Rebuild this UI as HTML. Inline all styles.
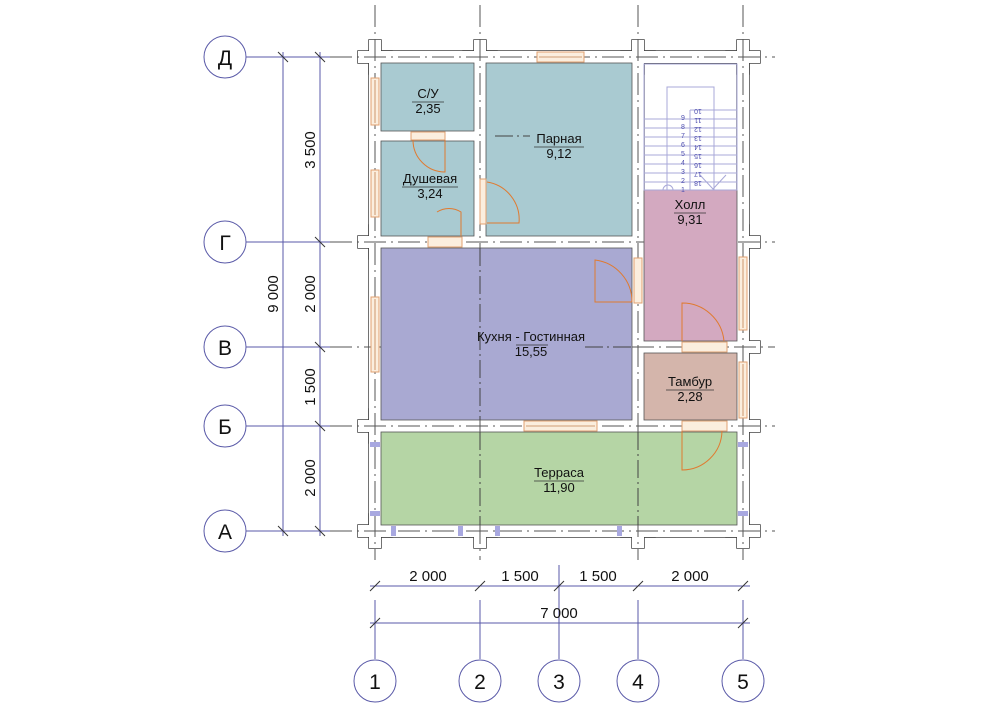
<!DOCTYPE html>
<html><head><meta charset="utf-8"><style>
html,body{margin:0;padding:0;background:#fff;}
svg{display:block;font-family:"Liberation Sans",sans-serif;}
</style></head><body>
<svg width="1000" height="707" viewBox="0 0 1000 707" xmlns="http://www.w3.org/2000/svg">
<defs>
<g id="grid">
<line x1="375" y1="5" x2="375" y2="560"/>
<line x1="480" y1="5" x2="480" y2="248"/>
<line x1="480" y1="420" x2="480" y2="560"/>
<line x1="638" y1="5" x2="638" y2="560"/>
<line x1="743" y1="5" x2="743" y2="560"/>
<line x1="330" y1="57" x2="775" y2="57"/>
<line x1="330" y1="242" x2="775" y2="242"/>
<line x1="330" y1="347" x2="381" y2="347"/>
<line x1="632" y1="347" x2="775" y2="347"/>
<line x1="330" y1="426" x2="775" y2="426"/>
<line x1="330" y1="531" x2="775" y2="531"/>
</g>
</defs>
<use href="#grid" stroke="#666" stroke-width="1" stroke-dasharray="22,5,2,5" fill="none"/>
<!-- bubbles & blue dim -->
<g stroke="#5a5aa8" stroke-width="1" fill="none">
<line x1="246" y1="57" x2="330" y2="57"/>
<line x1="246" y1="242" x2="330" y2="242"/>
<line x1="246" y1="347" x2="340" y2="347"/>
<line x1="246" y1="426" x2="330" y2="426"/>
<line x1="246" y1="531" x2="330" y2="531"/>
<line x1="283" y1="52" x2="283" y2="536"/>
<line x1="320" y1="52" x2="320" y2="536"/>
<line x1="370" y1="586" x2="750" y2="586"/>
<line x1="370" y1="623" x2="750" y2="623"/>
<line x1="375" y1="600" x2="375" y2="659"/>
<line x1="480" y1="600" x2="480" y2="659"/>
<line x1="559" y1="565" x2="559" y2="659"/>
<line x1="638" y1="600" x2="638" y2="659"/>
<line x1="743" y1="600" x2="743" y2="659"/>
<circle cx="225" cy="57" r="21"/><circle cx="225" cy="242" r="21"/><circle cx="225" cy="347" r="21"/><circle cx="225" cy="426" r="21"/><circle cx="225" cy="531" r="21"/>
<circle cx="375" cy="681" r="21"/><circle cx="480" cy="681" r="21"/><circle cx="559" cy="681" r="21"/><circle cx="638" cy="681" r="21"/><circle cx="743" cy="681" r="21"/>
</g>
<g stroke="#333" stroke-width="1">
<line x1="278" y1="52" x2="288" y2="62"/><line x1="278" y1="526" x2="288" y2="536"/>
<line x1="315" y1="52" x2="325" y2="62"/><line x1="315" y1="237" x2="325" y2="247"/><line x1="315" y1="342" x2="325" y2="352"/><line x1="315" y1="421" x2="325" y2="431"/><line x1="315" y1="526" x2="325" y2="536"/>
<line x1="370" y1="591" x2="380" y2="581"/><line x1="475" y1="591" x2="485" y2="581"/><line x1="554" y1="591" x2="564" y2="581"/><line x1="633" y1="591" x2="643" y2="581"/><line x1="738" y1="591" x2="748" y2="581"/>
<line x1="370" y1="628" x2="380" y2="618"/><line x1="738" y1="628" x2="748" y2="618"/>
</g>
<g font-size="21" text-anchor="middle" fill="#111">
<text x="225" y="65">Д</text><text x="225" y="250">Г</text><text x="225" y="355">В</text><text x="225" y="434">Б</text><text x="225" y="539">А</text>
<text x="375" y="689">1</text><text x="480" y="689">2</text><text x="559" y="689">3</text><text x="638" y="689">4</text><text x="743" y="689">5</text>
</g>
<g font-size="15" text-anchor="middle" fill="#111">
<text x="428" y="581">2 000</text><text x="520" y="581">1 500</text><text x="598" y="581">1 500</text><text x="690" y="581">2 000</text>
<text x="559" y="618">7 000</text>
<text transform="translate(278,294) rotate(-90)">9 000</text>
<text transform="translate(315,150) rotate(-90)">3 500</text>
<text transform="translate(315,294) rotate(-90)">2 000</text>
<text transform="translate(315,387) rotate(-90)">1 500</text>
<text transform="translate(315,478) rotate(-90)">2 000</text>
</g>
<defs>
<g id="walls">
<rect x="369" y="51" width="380" height="12"/>
<rect x="369" y="236" width="380" height="12"/>
<rect x="632" y="341" width="117" height="12"/>
<rect x="369" y="420" width="380" height="12"/>
<rect x="369" y="525" width="380" height="12"/>
<rect x="369" y="51" width="12" height="486"/>
<rect x="474" y="51" width="12" height="197"/>
<rect x="632" y="51" width="12" height="486"/>
<rect x="737" y="51" width="12" height="486"/>
<rect x="375" y="131" width="105" height="10"/>
<rect x="358" y="51" width="34" height="12"/><rect x="369" y="40" width="12" height="34"/>
<rect x="463" y="51" width="34" height="12"/><rect x="474" y="40" width="12" height="34"/>
<rect x="621" y="51" width="34" height="12"/><rect x="632" y="40" width="12" height="34"/>
<rect x="726" y="51" width="34" height="12"/><rect x="737" y="40" width="12" height="34"/>
<rect x="358" y="236" width="34" height="12"/><rect x="369" y="225" width="12" height="34"/>
<rect x="463" y="236" width="34" height="12"/><rect x="474" y="225" width="12" height="34"/>
<rect x="621" y="236" width="34" height="12"/><rect x="632" y="225" width="12" height="34"/>
<rect x="726" y="236" width="34" height="12"/><rect x="737" y="225" width="12" height="34"/>
<rect x="621" y="341" width="34" height="12"/>
<rect x="726" y="341" width="34" height="12"/><rect x="737" y="330" width="12" height="34"/>
<rect x="358" y="420" width="34" height="12"/><rect x="369" y="409" width="12" height="34"/>
<rect x="463" y="420" width="34" height="12"/><rect x="474" y="409" width="12" height="34"/>
<rect x="621" y="420" width="34" height="12"/><rect x="632" y="409" width="12" height="34"/>
<rect x="726" y="420" width="34" height="12"/><rect x="737" y="409" width="12" height="34"/>
<rect x="358" y="525" width="34" height="12"/><rect x="369" y="514" width="12" height="34"/>
<rect x="463" y="525" width="34" height="12"/><rect x="474" y="514" width="12" height="34"/>
<rect x="621" y="525" width="34" height="12"/><rect x="632" y="514" width="12" height="34"/>
<rect x="726" y="525" width="34" height="12"/><rect x="737" y="514" width="12" height="34"/>
</g>
</defs>
<use href="#walls" fill="#fff" stroke="#444" stroke-width="1.5"/>
<use href="#walls" fill="#fff" stroke="none"/>
<use href="#grid" stroke="#555" stroke-width="1" stroke-dasharray="22,5,2,5" fill="none"/>
<!-- rooms -->
<g stroke="#555" stroke-width="0.8">
<rect x="381" y="63" width="93" height="68" fill="#a9cad1"/>
<rect x="381" y="141" width="93" height="95" fill="#a9cad1"/>
<rect x="486" y="63" width="146" height="173" fill="#a9cad1"/>
<rect x="644" y="190" width="93" height="151" fill="#d3a9c0"/>
<rect x="381" y="248" width="251" height="172" fill="#a9a9d2"/>
<rect x="644" y="353" width="93" height="67" fill="#d4b5ab"/>
<rect x="381" y="432" width="356" height="93" fill="#b5d5a5"/>
</g>
<g stroke="#444" stroke-width="1" stroke-dasharray="18,4,2,4">
<line x1="480" y1="248" x2="480" y2="420"/>
<line x1="480" y1="432" x2="480" y2="525"/>
<line x1="638" y1="432" x2="638" y2="525"/>
<line x1="585" y1="347" x2="632" y2="347"/>
<line x1="495" y1="136" x2="530" y2="136"/>
</g>
<!-- stairs -->
<g stroke="#a8a8d8" stroke-width="1" fill="none">
<rect x="644" y="64" width="93" height="126"/>
<polyline points="667,190 667,87 714,87 714,190"/>
<line x1="690" y1="110" x2="690" y2="190"/>
<line x1="690" y1="110" x2="737" y2="110"/>
<line x1="644" y1="119" x2="737" y2="119"/><line x1="644" y1="128" x2="737" y2="128"/><line x1="644" y1="137" x2="737" y2="137"/><line x1="644" y1="146" x2="737" y2="146"/><line x1="644" y1="155" x2="737" y2="155"/><line x1="644" y1="164" x2="737" y2="164"/><line x1="644" y1="173" x2="737" y2="173"/><line x1="644" y1="182" x2="737" y2="182"/>
<polyline points="700,175 713,189 726,175"/>
<path d="M663,190 a5,5 0 0 1 10,0"/>
</g>
<g font-size="7" fill="#5050b0" text-anchor="middle">
<text x="683" y="192">1</text><text x="683" y="183">2</text><text x="683" y="174">3</text><text x="683" y="165">4</text><text x="683" y="156">5</text><text x="683" y="147">6</text><text x="683" y="138">7</text><text x="683" y="129">8</text><text x="683" y="120">9</text>
<text transform="translate(698,109) rotate(180)">10</text><text transform="translate(698,118) rotate(180)">11</text><text transform="translate(698,127) rotate(180)">12</text><text transform="translate(698,136) rotate(180)">13</text><text transform="translate(698,145) rotate(180)">14</text><text transform="translate(698,154) rotate(180)">15</text><text transform="translate(698,163) rotate(180)">16</text><text transform="translate(698,172) rotate(180)">17</text><text transform="translate(698,181) rotate(180)">18</text>
</g>
<!-- windows -->
<g fill="#fbeede" stroke="#e0a070" stroke-width="1">
<rect x="537" y="52" width="47" height="10"/>
<rect x="371" y="78" width="8" height="47"/>
<rect x="371" y="170" width="8" height="47"/>
<rect x="371" y="297" width="8" height="75"/>
<rect x="739" y="257" width="8" height="73"/>
<rect x="739" y="362" width="8" height="56"/>
<rect x="524" y="421" width="73" height="10"/>
<rect x="634" y="258" width="8" height="45"/>
<rect x="480" y="179" width="6" height="45"/>
<rect x="411" y="132" width="34" height="8"/>
<rect x="428" y="237" width="34" height="10"/>
<rect x="682" y="342" width="45" height="10"/>
<rect x="682" y="421" width="45" height="10"/>
</g>
<g stroke="#c08050" stroke-width="0.8">
<line x1="375" y1="80" x2="375" y2="123"/><line x1="375" y1="172" x2="375" y2="215"/><line x1="375" y1="299" x2="375" y2="370"/>
<line x1="743" y1="259" x2="743" y2="328"/><line x1="743" y1="364" x2="743" y2="416"/>
<line x1="539" y1="57" x2="582" y2="57"/><line x1="526" y1="426" x2="595" y2="426"/>
</g>
<g fill="#a8a8e0">
<rect x="370" y="442" width="10" height="5"/><rect x="370" y="511" width="10" height="5"/>
<rect x="738" y="442" width="10" height="5"/><rect x="738" y="511" width="10" height="5"/>
<rect x="391" y="526" width="5" height="10"/><rect x="458" y="526" width="5" height="10"/>
<rect x="495" y="526" width="5" height="10"/><rect x="617" y="526" width="5" height="10"/>
</g>
<g fill="none" stroke="#e07a30" stroke-width="1">
<path d="M445,140 V172 A32,32 0 0 1 413,140"/>
<path d="M461,236 V212 A22,22 0 0 0 437,212 "/>
<path d="M487,223 H519 A38,38 0 0 0 487,182"/>
<path d="M632,302 H595 V260 A42,42 0 0 1 632,302"/>
<path d="M682,341 V303 A42,42 0 0 1 724,341"/>
<path d="M682,431 V470 A40,40 0 0 0 722,431"/>
</g>
<g font-size="13" text-anchor="middle" fill="#111">
<text x="428" y="98">С/У</text><text x="428" y="113">2,35</text>
<text x="430" y="183">Душевая</text><text x="430" y="198">3,24</text>
<text x="559" y="143">Парная</text><text x="559" y="158">9,12</text>
<text x="690" y="209">Холл</text><text x="690" y="224">9,31</text>
<text x="531" y="341">Кухня - Гостинная</text><text x="531" y="356">15,55</text>
<text x="690" y="386">Тамбур</text><text x="690" y="401">2,28</text>
<text x="559" y="477">Терраса</text><text x="559" y="492">11,90</text>
</g>
<g stroke="#333" stroke-width="0.8">
<line x1="412" y1="102" x2="444" y2="102"/><line x1="402" y1="187" x2="458" y2="187"/>
<line x1="534" y1="147" x2="584" y2="147"/><line x1="674" y1="213" x2="706" y2="213"/>
<line x1="516" y1="345" x2="548" y2="345"/><line x1="666" y1="390" x2="714" y2="390"/>
<line x1="534" y1="481" x2="584" y2="481"/>
</g>
</svg>
</body></html>
